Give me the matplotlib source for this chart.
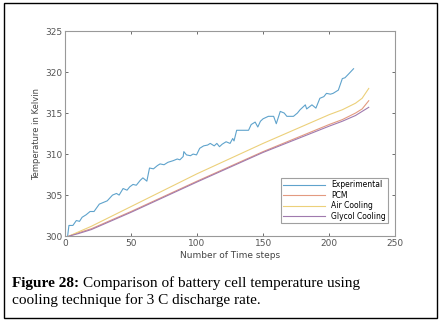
import matplotlib.pyplot as plt
from matplotlib.patches import Rectangle

# experimental curve
t_exp = [2, 3, 6, 8.6, 11, 13, 16, 19, 22, 26, 29, 32, 36, 39, 41, 44, 47, 49, 51.5,
         54, 57, 59, 62, 64, 67, 70, 72, 75, 78, 82, 85, 87, 89.5, 90, 92, 95, 97,
         99.6, 102, 105, 108, 110, 113, 115, 117, 119, 122, 125, 127, 128, 130, 134,
         139, 141, 144, 146, 148, 150, 154, 158, 160, 163, 166, 168, 173, 176, 178,
         182, 183, 187, 190, 193, 196, 198, 201, 203, 207, 210, 212, 215, 218.5]
T_exp = [300.0, 301.3, 301.3, 301.9, 301.8, 302.3, 302.6, 303.0, 303.0, 303.9, 304.1,
         304.3, 305.0, 305.2, 305.0, 305.8, 305.6, 306.0, 306.3, 306.2, 306.8, 307.1,
         306.7, 308.3, 308.2, 308.6, 308.8, 308.7, 309.0, 309.2, 309.4, 309.3, 309.7,
         310.3, 309.9, 309.8, 310.0, 309.9, 310.7, 311.0, 311.1, 311.3, 311.0, 311.3,
         310.9, 311.2, 311.5, 311.3, 311.9, 311.6, 312.9, 312.9, 312.9, 313.6, 313.9,
         313.3, 314.0, 314.3, 314.6, 314.6, 313.7, 315.2, 315.0, 314.6, 314.6, 315.0,
         315.4, 316.0, 315.5, 316.0, 315.6, 316.8, 317.0, 317.4, 317.3, 317.4, 317.8,
         319.2, 319.3, 319.8, 320.4]

# simulated curves
t_sim = [3, 10, 20, 50, 100, 150, 200, 210, 220, 225, 230]
T_pcm = [300.0, 300.4, 300.9, 303.0, 306.7, 310.3, 313.6, 314.2, 315.0, 315.5, 316.5]
T_air = [300.0, 300.5, 301.2, 303.6, 307.6, 311.3, 314.8, 315.4, 316.2, 316.8, 318.0]
T_gly = [300.0, 300.3, 300.8, 302.9, 306.6, 310.2, 313.4, 314.0, 314.7, 315.2, 315.7]

labels = ['Experimental', 'PCM', 'Air Cooling', 'Glycol Cooling']
colors = ['#5fa3cc', '#e39a80', '#ecd07a', '#a07aae']

fig = plt.figure(figsize=(4.42, 3.23), dpi=100)
ax = fig.add_axes([0.147, 0.269, 0.747, 0.635])

ax.plot(t_exp, T_exp, color=colors[0], lw=0.8, label=labels[0])
ax.plot(t_sim, T_pcm, color=colors[1], lw=0.8, label=labels[1])
ax.plot(t_sim, T_air, color=colors[2], lw=0.8, label=labels[2])
ax.plot(t_sim, T_gly, color=colors[3], lw=0.8, label=labels[3])

ax.set_xlim(0, 250)
ax.set_ylim(300, 325)
ax.set_xticks([0, 50, 100, 150, 200, 250])
ax.set_yticks([300, 305, 310, 315, 320, 325])
ax.tick_params(direction='in', length=2, width=0.6, labelsize=6.5, colors='#555555',
               top=True, right=True, pad=2)
for s in ax.spines.values():
    s.set_color('#999999')
    s.set_linewidth(0.8)
ax.set_xlabel('Number of Time steps', fontsize=6.5, color='#444444', labelpad=2)
ax.set_ylabel('Temperature in Kelvin', fontsize=6, color='#444444', labelpad=3)

leg = ax.legend(loc='lower right', fontsize=5.5, frameon=True, fancybox=False,
                borderpad=0.3, handlelength=5.5, labelspacing=0.2,
                bbox_to_anchor=(0.99, 0.045))
leg.get_frame().set_edgecolor('#888888')
leg.get_frame().set_linewidth(0.8)

# caption below the plot
cap1 = fig.text(0.027, 0.111, 'Figure 28:', fontsize=11, fontweight='bold',
                family='Liberation Serif')
ax.annotate('Comparison of battery cell temperature using', xy=(1, 0),
            xycoords=cap1, xytext=(3, 0), textcoords='offset points',
            fontsize=11, family='Liberation Serif', va='bottom', ha='left',
            annotation_clip=False)
fig.text(0.027, 0.058, 'cooling technique for 3 C discharge rate.',
         fontsize=11, family='Liberation Serif')

fig.patches.append(Rectangle((4 / 442, 5 / 323), 433 / 442, 315 / 323,
                             transform=fig.transFigure, fill=False,
                             edgecolor='black', lw=1))

fig.savefig('out.png', dpi=100)
